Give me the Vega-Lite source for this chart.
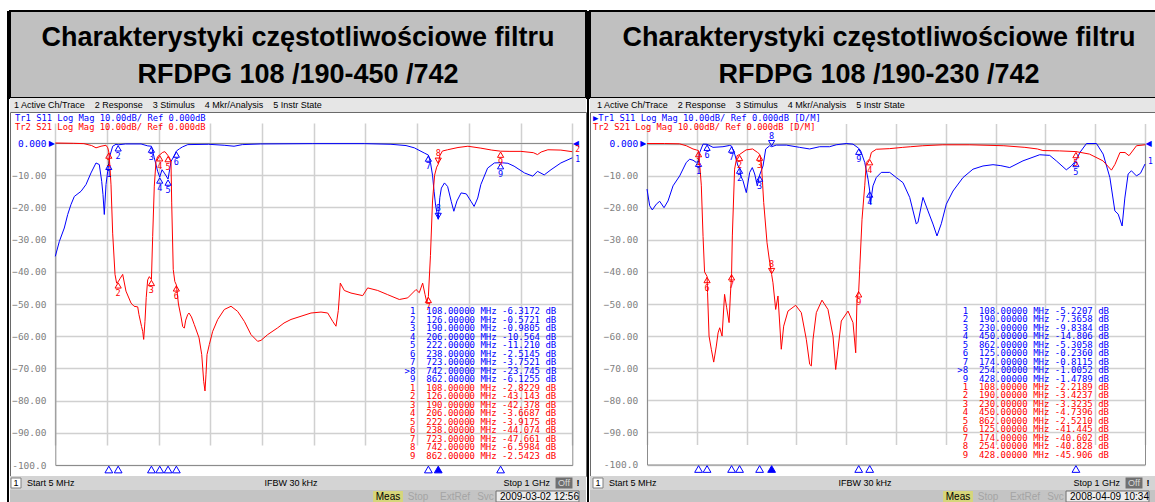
{
"$schema": "https://vega.github.io/schema/vega-lite/v6.json",
"background": "#ffffff",
"padding": {"left": 7, "top": 10, "right": 0, "bottom": 0},
"spacing": 0,
"config": {"view": {"stroke": null}},
"datasets": {
"lt": [
{"tr":"S11","f":5,"db":-35.2},{"tr":"S11","f":12.7,"db":-30.6},{"tr":"S11","f":22.3,"db":-26.4},{"tr":"S11","f":28.9,"db":-22.2},{"tr":"S11","f":35.2,"db":-19.1},{"tr":"S11","f":41.6,"db":-16.6},{"tr":"S11","f":54.5,"db":-15},{"tr":"S11","f":64.1,"db":-12.9},{"tr":"S11","f":73.7,"db":-9.3},{"tr":"S11","f":83.3,"db":-6.2},{"tr":"S11","f":89.7,"db":-6.7},{"tr":"S11","f":94.3,"db":-11.9},{"tr":"S11","f":96.8,"db":-16},{"tr":"S11","f":99.3,"db":-22.2},{"tr":"S11","f":102.6,"db":-12.9},{"tr":"S11","f":105.8,"db":-8.8},{"tr":"S11","f":108,"db":-6.3},{"tr":"S11","f":110,"db":-4},{"tr":"S11","f":115.5,"db":-1},{"tr":"S11","f":121.8,"db":-0.4},{"tr":"S11","f":126,"db":-0.57},{"tr":"S11","f":140,"db":-0.3},{"tr":"S11","f":170,"db":-0.3},{"tr":"S11","f":183,"db":-0.9},{"tr":"S11","f":190,"db":-1},{"tr":"S11","f":195.5,"db":-4.6},{"tr":"S11","f":202,"db":-8.8},{"tr":"S11","f":206,"db":-10.6},{"tr":"S11","f":210.4,"db":-8.3},{"tr":"S11","f":216,"db":-9.6},{"tr":"S11","f":222,"db":-11.2},{"tr":"S11","f":227.7,"db":-5.7},{"tr":"S11","f":234,"db":-4},{"tr":"S11","f":238,"db":-2.5},{"tr":"S11","f":244,"db":-1.8},{"tr":"S11","f":250,"db":-1.2},{"tr":"S11","f":260,"db":-0.5},{"tr":"S11","f":300,"db":-0.4},{"tr":"S11","f":330,"db":-0.7},{"tr":"S11","f":349,"db":-1},{"tr":"S11","f":365,"db":-0.5},{"tr":"S11","f":400,"db":-0.3},{"tr":"S11","f":500,"db":-0.2},{"tr":"S11","f":600,"db":-0.2},{"tr":"S11","f":651,"db":-0.4},{"tr":"S11","f":680,"db":-0.8},{"tr":"S11","f":696,"db":-1.5},{"tr":"S11","f":715,"db":-3.1},{"tr":"S11","f":723,"db":-3.75},{"tr":"S11","f":727,"db":-6},{"tr":"S11","f":731,"db":-10},{"tr":"S11","f":734,"db":-15},{"tr":"S11","f":737,"db":-19.5},{"tr":"S11","f":742,"db":-23.7},{"tr":"S11","f":745,"db":-17},{"tr":"S11","f":748,"db":-14},{"tr":"S11","f":754,"db":-12.4},{"tr":"S11","f":760,"db":-13.5},{"tr":"S11","f":767,"db":-18.1},{"tr":"S11","f":772,"db":-21.2},{"tr":"S11","f":778,"db":-18},{"tr":"S11","f":786,"db":-15.5},{"tr":"S11","f":796,"db":-15.8},{"tr":"S11","f":805,"db":-18.1},{"tr":"S11","f":811,"db":-19.7},{"tr":"S11","f":818,"db":-17.1},{"tr":"S11","f":824,"db":-12.9},{"tr":"S11","f":837,"db":-7.8},{"tr":"S11","f":850,"db":-6.2},{"tr":"S11","f":862,"db":-6.1},{"tr":"S11","f":876,"db":-6.3},{"tr":"S11","f":888,"db":-7.2},{"tr":"S11","f":908,"db":-9.3},{"tr":"S11","f":924,"db":-10.3},{"tr":"S11","f":933,"db":-8.8},{"tr":"S11","f":946,"db":-9.9},{"tr":"S11","f":959,"db":-8.3},{"tr":"S11","f":978,"db":-6.2},{"tr":"S11","f":1000,"db":-4.6},
{"tr":"S21","f":5,"db":0},{"tr":"S21","f":40,"db":-0.1},{"tr":"S21","f":60,"db":-0.2},{"tr":"S21","f":75,"db":-0.8},{"tr":"S21","f":83.3,"db":-1.5},{"tr":"S21","f":93,"db":-1},{"tr":"S21","f":102.6,"db":-0.7},{"tr":"S21","f":106,"db":-1.5},{"tr":"S21","f":108,"db":-2.8},{"tr":"S21","f":110,"db":-7},{"tr":"S21","f":112.2,"db":-13},{"tr":"S21","f":115.4,"db":-28},{"tr":"S21","f":119.9,"db":-40.8},{"tr":"S21","f":123,"db":-43.5},{"tr":"S21","f":126,"db":-43.1},{"tr":"S21","f":130,"db":-42},{"tr":"S21","f":134.7,"db":-40.8},{"tr":"S21","f":141,"db":-46},{"tr":"S21","f":150.7,"db":-49.7},{"tr":"S21","f":156.5,"db":-50.7},{"tr":"S21","f":163.6,"db":-50.9},{"tr":"S21","f":166,"db":-53.3},{"tr":"S21","f":171,"db":-57},{"tr":"S21","f":173.2,"db":-58.5},{"tr":"S21","f":175.1,"db":-61},{"tr":"S21","f":177.6,"db":-55.4},{"tr":"S21","f":180,"db":-48},{"tr":"S21","f":182.8,"db":-42.5},{"tr":"S21","f":186,"db":-41.5},{"tr":"S21","f":190,"db":-42.4},{"tr":"S21","f":192.4,"db":-29},{"tr":"S21","f":195.5,"db":-13.4},{"tr":"S21","f":198.8,"db":-5.7},{"tr":"S21","f":202,"db":-4.2},{"tr":"S21","f":206,"db":-3.67},{"tr":"S21","f":211.7,"db":-2.9},{"tr":"S21","f":216,"db":-2.7},{"tr":"S21","f":222,"db":-3.92},{"tr":"S21","f":225,"db":-4.6},{"tr":"S21","f":227.7,"db":-6},{"tr":"S21","f":229,"db":-18.6},{"tr":"S21","f":232,"db":-39.3},{"tr":"S21","f":235,"db":-43},{"tr":"S21","f":238,"db":-44.07},{"tr":"S21","f":242,"db":-50},{"tr":"S21","f":247,"db":-54},{"tr":"S21","f":250.2,"db":-57},{"tr":"S21","f":253.3,"db":-57.5},{"tr":"S21","f":256,"db":-55},{"tr":"S21","f":259.8,"db":-53.3},{"tr":"S21","f":262.3,"db":-52.8},{"tr":"S21","f":267,"db":-54},{"tr":"S21","f":272.5,"db":-56.4},{"tr":"S21","f":281.6,"db":-60.5},{"tr":"S21","f":286.8,"db":-65.7},{"tr":"S21","f":290.6,"db":-74},{"tr":"S21","f":293.1,"db":-77},{"tr":"S21","f":295,"db":-72},{"tr":"S21","f":297,"db":-65.7},{"tr":"S21","f":301.4,"db":-62.6},{"tr":"S21","f":307.9,"db":-58.5},{"tr":"S21","f":317.6,"db":-54.8},{"tr":"S21","f":330.3,"db":-51.7},{"tr":"S21","f":343.2,"db":-50.7},{"tr":"S21","f":356,"db":-52.3},{"tr":"S21","f":368.8,"db":-55.4},{"tr":"S21","f":381.6,"db":-59.5},{"tr":"S21","f":394.5,"db":-61.6},{"tr":"S21","f":400.9,"db":-61.3},{"tr":"S21","f":413.8,"db":-59.5},{"tr":"S21","f":433,"db":-57.4},{"tr":"S21","f":445.2,"db":-55.9},{"tr":"S21","f":458.6,"db":-54.8},{"tr":"S21","f":477.9,"db":-53.8},{"tr":"S21","f":497.1,"db":-52.8},{"tr":"S21","f":516.4,"db":-52.5},{"tr":"S21","f":529.3,"db":-52.8},{"tr":"S21","f":538.9,"db":-55.4},{"tr":"S21","f":545.2,"db":-56.9},{"tr":"S21","f":549.7,"db":-52},{"tr":"S21","f":553.5,"db":-43.5},{"tr":"S21","f":561.2,"db":-45.8},{"tr":"S21","f":574.1,"db":-46.6},{"tr":"S21","f":596.6,"db":-47.4},{"tr":"S21","f":606.2,"db":-45},{"tr":"S21","f":625.5,"db":-45.8},{"tr":"S21","f":644.7,"db":-47.1},{"tr":"S21","f":667.1,"db":-48.6},{"tr":"S21","f":683.2,"db":-48.1},{"tr":"S21","f":699.2,"db":-45.5},{"tr":"S21","f":705.5,"db":-46.5},{"tr":"S21","f":712,"db":-43.5},{"tr":"S21","f":716.5,"db":-47},{"tr":"S21","f":720,"db":-49.5},{"tr":"S21","f":723,"db":-47.7},{"tr":"S21","f":727,"db":-35},{"tr":"S21","f":731,"db":-18},{"tr":"S21","f":735,"db":-10},{"tr":"S21","f":739,"db":-7.5},{"tr":"S21","f":742,"db":-6.6},{"tr":"S21","f":745,"db":-4},{"tr":"S21","f":750,"db":-2.5},{"tr":"S21","f":760,"db":-2.1},{"tr":"S21","f":780,"db":-1.4},{"tr":"S21","f":799,"db":-1},{"tr":"S21","f":824,"db":-1.6},{"tr":"S21","f":845,"db":-2.2},{"tr":"S21","f":862,"db":-2.54},{"tr":"S21","f":880,"db":-2.6},{"tr":"S21","f":901,"db":-2.6},{"tr":"S21","f":925,"db":-3},{"tr":"S21","f":933,"db":-3.6},{"tr":"S21","f":940,"db":-2.8},{"tr":"S21","f":953,"db":-2.1},{"tr":"S21","f":978,"db":-2.2},{"tr":"S21","f":1000,"db":-2.7}
],
"lm": [
{"tr":"S11","n":"1","f":108,"db":-6.3172,"act":false,"row":1,"line":"\u00a01\u00a0\u00a0108.00000\u00a0MHz\u00a0-6.3172\u00a0dB"},
{"tr":"S11","n":"2","f":126,"db":-0.5721,"act":false,"row":2,"line":"\u00a02\u00a0\u00a0126.00000\u00a0MHz\u00a0-0.5721\u00a0dB"},
{"tr":"S11","n":"3","f":190,"db":-0.9805,"act":false,"row":3,"line":"\u00a03\u00a0\u00a0190.00000\u00a0MHz\u00a0-0.9805\u00a0dB"},
{"tr":"S11","n":"4","f":206,"db":-10.564,"act":false,"row":4,"line":"\u00a04\u00a0\u00a0206.00000\u00a0MHz\u00a0-10.564\u00a0dB"},
{"tr":"S11","n":"5","f":222,"db":-11.21,"act":false,"row":5,"line":"\u00a05\u00a0\u00a0222.00000\u00a0MHz\u00a0-11.210\u00a0dB"},
{"tr":"S11","n":"6","f":238,"db":-2.5145,"act":false,"row":6,"line":"\u00a06\u00a0\u00a0238.00000\u00a0MHz\u00a0-2.5145\u00a0dB"},
{"tr":"S11","n":"7","f":723,"db":-3.7521,"act":false,"row":7,"line":"\u00a07\u00a0\u00a0723.00000\u00a0MHz\u00a0-3.7521\u00a0dB"},
{"tr":"S11","n":"8","f":742,"db":-23.745,"act":true,"row":8,"line":">8\u00a0\u00a0742.00000\u00a0MHz\u00a0-23.745\u00a0dB"},
{"tr":"S11","n":"9","f":862,"db":-6.1255,"act":false,"row":9,"line":"\u00a09\u00a0\u00a0862.00000\u00a0MHz\u00a0-6.1255\u00a0dB"},
{"tr":"S21","n":"1","f":108,"db":-2.8229,"act":false,"row":10,"line":"\u00a01\u00a0\u00a0108.00000\u00a0MHz\u00a0-2.8229\u00a0dB"},
{"tr":"S21","n":"2","f":126,"db":-43.143,"act":false,"row":11,"line":"\u00a02\u00a0\u00a0126.00000\u00a0MHz\u00a0-43.143\u00a0dB"},
{"tr":"S21","n":"3","f":190,"db":-42.378,"act":false,"row":12,"line":"\u00a03\u00a0\u00a0190.00000\u00a0MHz\u00a0-42.378\u00a0dB"},
{"tr":"S21","n":"4","f":206,"db":-3.6687,"act":false,"row":13,"line":"\u00a04\u00a0\u00a0206.00000\u00a0MHz\u00a0-3.6687\u00a0dB"},
{"tr":"S21","n":"5","f":222,"db":-3.9175,"act":false,"row":14,"line":"\u00a05\u00a0\u00a0222.00000\u00a0MHz\u00a0-3.9175\u00a0dB"},
{"tr":"S21","n":"6","f":238,"db":-44.074,"act":false,"row":15,"line":"\u00a06\u00a0\u00a0238.00000\u00a0MHz\u00a0-44.074\u00a0dB"},
{"tr":"S21","n":"7","f":723,"db":-47.661,"act":false,"row":16,"line":"\u00a07\u00a0\u00a0723.00000\u00a0MHz\u00a0-47.661\u00a0dB"},
{"tr":"S21","n":"8","f":742,"db":-6.5984,"act":true,"row":17,"line":"\u00a08\u00a0\u00a0742.00000\u00a0MHz\u00a0-6.5984\u00a0dB"},
{"tr":"S21","n":"9","f":862,"db":-2.5423,"act":false,"row":18,"line":"\u00a09\u00a0\u00a0862.00000\u00a0MHz\u00a0-2.5423\u00a0dB"}
],
"rt": [
{"tr":"S11","f":5,"db":-14.2},{"tr":"S11","f":10.4,"db":-19.4},{"tr":"S11","f":15.6,"db":-20.7},{"tr":"S11","f":23.6,"db":-18.9},{"tr":"S11","f":30.4,"db":-18},{"tr":"S11","f":39,"db":-20},{"tr":"S11","f":47,"db":-17.9},{"tr":"S11","f":57,"db":-13.2},{"tr":"S11","f":70.3,"db":-10.1},{"tr":"S11","f":83.5,"db":-5.9},{"tr":"S11","f":90.3,"db":-4.9},{"tr":"S11","f":96.9,"db":-5.2},{"tr":"S11","f":103.5,"db":-5.9},{"tr":"S11","f":108,"db":-5.2},{"tr":"S11","f":110.3,"db":-2.8},{"tr":"S11","f":116.9,"db":-0.2},{"tr":"S11","f":125,"db":-0.24},{"tr":"S11","f":136.9,"db":-1.2},{"tr":"S11","f":156.8,"db":-1},{"tr":"S11","f":170.2,"db":-0.6},{"tr":"S11","f":174,"db":-0.81},{"tr":"S11","f":180.2,"db":-3.3},{"tr":"S11","f":186.8,"db":-7},{"tr":"S11","f":190,"db":-7.37},{"tr":"S11","f":192.2,"db":-10.1},{"tr":"S11","f":196.8,"db":-11.6},{"tr":"S11","f":203.4,"db":-15.3},{"tr":"S11","f":210.2,"db":-9},{"tr":"S11","f":215.4,"db":-7.5},{"tr":"S11","f":220.2,"db":-9.5},{"tr":"S11","f":225.4,"db":-13.2},{"tr":"S11","f":230,"db":-9.84},{"tr":"S11","f":236.8,"db":-7},{"tr":"S11","f":242.2,"db":-1.7},{"tr":"S11","f":250.2,"db":-0.7},{"tr":"S11","f":254,"db":-1},{"tr":"S11","f":263.3,"db":-0.5},{"tr":"S11","f":283.3,"db":-0.5},{"tr":"S11","f":310,"db":-1.2},{"tr":"S11","f":330,"db":-1.7},{"tr":"S11","f":350,"db":-1},{"tr":"S11","f":370,"db":-1},{"tr":"S11","f":383,"db":-0.4},{"tr":"S11","f":403,"db":0},{"tr":"S11","f":416.6,"db":-0.2},{"tr":"S11","f":428,"db":-1.48},{"tr":"S11","f":432,"db":-2.3},{"tr":"S11","f":440,"db":-5.9},{"tr":"S11","f":446.6,"db":-11.1},{"tr":"S11","f":450,"db":-14.8},{"tr":"S11","f":451.2,"db":-18.9},{"tr":"S11","f":456.5,"db":-13.2},{"tr":"S11","f":463.1,"db":-10.6},{"tr":"S11","f":473.1,"db":-9},{"tr":"S11","f":489.9,"db":-9},{"tr":"S11","f":503.1,"db":-10.6},{"tr":"S11","f":516.5,"db":-12.2},{"tr":"S11","f":529.9,"db":-16.8},{"tr":"S11","f":543.1,"db":-25.1},{"tr":"S11","f":546.5,"db":-24.5},{"tr":"S11","f":556.4,"db":-16.8},{"tr":"S11","f":566.4,"db":-21},{"tr":"S11","f":576.4,"db":-25.1},{"tr":"S11","f":584.4,"db":-28.8},{"tr":"S11","f":593,"db":-25},{"tr":"S11","f":603,"db":-18.9},{"tr":"S11","f":616.4,"db":-14.8},{"tr":"S11","f":636.4,"db":-10.6},{"tr":"S11","f":656.3,"db":-8},{"tr":"S11","f":676.3,"db":-7},{"tr":"S11","f":696.3,"db":-6.6},{"tr":"S11","f":712,"db":-6.9},{"tr":"S11","f":729.7,"db":-7.5},{"tr":"S11","f":756.2,"db":-5.4},{"tr":"S11","f":789.6,"db":-3.5},{"tr":"S11","f":809.6,"db":-3.7},{"tr":"S11","f":822.8,"db":-5.4},{"tr":"S11","f":842.8,"db":-8.2},{"tr":"S11","f":852.8,"db":-7},{"tr":"S11","f":862,"db":-5.31},{"tr":"S11","f":869.9,"db":-2.8},{"tr":"S11","f":883.1,"db":0},{"tr":"S11","f":903,"db":0},{"tr":"S11","f":916.4,"db":-3.3},{"tr":"S11","f":929.8,"db":-10.6},{"tr":"S11","f":939.8,"db":-21},{"tr":"S11","f":946.4,"db":-22},{"tr":"S11","f":954.3,"db":-25.7},{"tr":"S11","f":959.7,"db":-17},{"tr":"S11","f":966.3,"db":-9.5},{"tr":"S11","f":972.9,"db":-8.5},{"tr":"S11","f":982.9,"db":-10.1},{"tr":"S11","f":990.9,"db":-9.3},{"tr":"S11","f":1000,"db":-6.4},
{"tr":"S21","f":5,"db":0},{"tr":"S21","f":40,"db":0},{"tr":"S21","f":70,"db":-0.1},{"tr":"S21","f":83.5,"db":-0.7},{"tr":"S21","f":96.9,"db":-1.7},{"tr":"S21","f":103.5,"db":-2},{"tr":"S21","f":108,"db":-2.22},{"tr":"S21","f":109,"db":-4},{"tr":"S21","f":113.5,"db":-13},{"tr":"S21","f":117,"db":-29},{"tr":"S21","f":120,"db":-40},{"tr":"S21","f":125,"db":-41.4},{"tr":"S21","f":126,"db":-46.5},{"tr":"S21","f":129,"db":-60},{"tr":"S21","f":133.5,"db":-64.1},{"tr":"S21","f":138.3,"db":-68.1},{"tr":"S21","f":143.5,"db":-63.1},{"tr":"S21","f":147,"db":-59},{"tr":"S21","f":150.3,"db":-57.4},{"tr":"S21","f":155,"db":-60},{"tr":"S21","f":160,"db":-47},{"tr":"S21","f":164,"db":-51},{"tr":"S21","f":169,"db":-55.8},{"tr":"S21","f":171.5,"db":-47.5},{"tr":"S21","f":174,"db":-40.6},{"tr":"S21","f":175.5,"db":-28.8},{"tr":"S21","f":180,"db":-8},{"tr":"S21","f":185,"db":-3.8},{"tr":"S21","f":190,"db":-3.42},{"tr":"S21","f":203,"db":-2},{"tr":"S21","f":216,"db":-1.7},{"tr":"S21","f":226,"db":-2.8},{"tr":"S21","f":230,"db":-3.32},{"tr":"S21","f":233.4,"db":-5.9},{"tr":"S21","f":238.2,"db":-18.4},{"tr":"S21","f":244.8,"db":-30.9},{"tr":"S21","f":250.2,"db":-37.1},{"tr":"S21","f":254,"db":-40.8},{"tr":"S21","f":256.7,"db":-43.4},{"tr":"S21","f":262.1,"db":-51.7},{"tr":"S21","f":266.7,"db":-47.5},{"tr":"S21","f":273.3,"db":-64.1},{"tr":"S21","f":278.1,"db":-56.9},{"tr":"S21","f":286.7,"db":-52.2},{"tr":"S21","f":302.1,"db":-50.4},{"tr":"S21","f":313.3,"db":-52.7},{"tr":"S21","f":323.3,"db":-61},{"tr":"S21","f":330.1,"db":-68.8},{"tr":"S21","f":333.3,"db":-69.3},{"tr":"S21","f":336.7,"db":-61},{"tr":"S21","f":343.3,"db":-52.7},{"tr":"S21","f":354.6,"db":-48.8},{"tr":"S21","f":366.6,"db":-51.7},{"tr":"S21","f":376.6,"db":-60},{"tr":"S21","f":382,"db":-70.4},{"tr":"S21","f":386.6,"db":-64.1},{"tr":"S21","f":393.2,"db":-55.3},{"tr":"S21","f":406.6,"db":-52.2},{"tr":"S21","f":416.6,"db":-55.8},{"tr":"S21","f":422,"db":-65.2},{"tr":"S21","f":424.6,"db":-48.5},{"tr":"S21","f":428,"db":-45.9},{"tr":"S21","f":430,"db":-39.2},{"tr":"S21","f":434.6,"db":-23.6},{"tr":"S21","f":440,"db":-13.2},{"tr":"S21","f":443.2,"db":-5.9},{"tr":"S21","f":450,"db":-4.74},{"tr":"S21","f":453.3,"db":-2.8},{"tr":"S21","f":463.2,"db":-1.8},{"tr":"S21","f":490,"db":-1.6},{"tr":"S21","f":516,"db":-1.2},{"tr":"S21","f":532,"db":-1},{"tr":"S21","f":556,"db":-0.7},{"tr":"S21","f":596,"db":-0.4},{"tr":"S21","f":650,"db":-0.4},{"tr":"S21","f":718,"db":-0.7},{"tr":"S21","f":760,"db":-1.2},{"tr":"S21","f":785,"db":-1.7},{"tr":"S21","f":796,"db":-2.2},{"tr":"S21","f":829,"db":-2.3},{"tr":"S21","f":862,"db":-2.52},{"tr":"S21","f":889,"db":-3.3},{"tr":"S21","f":916,"db":-5.4},{"tr":"S21","f":933,"db":-8.3},{"tr":"S21","f":940,"db":-6.5},{"tr":"S21","f":950,"db":-2.8},{"tr":"S21","f":960,"db":-2.8},{"tr":"S21","f":968,"db":-3.8},{"tr":"S21","f":983,"db":-0.7},{"tr":"S21","f":1000,"db":-0.4}
],
"rm": [
{"tr":"S11","n":"1","f":108,"db":-5.2207,"act":false,"row":1,"line":"\u00a01\u00a0\u00a0108.00000\u00a0MHz\u00a0-5.2207\u00a0dB"},
{"tr":"S11","n":"2","f":190,"db":-7.3658,"act":false,"row":2,"line":"\u00a02\u00a0\u00a0190.00000\u00a0MHz\u00a0-7.3658\u00a0dB"},
{"tr":"S11","n":"3","f":230,"db":-9.8384,"act":false,"row":3,"line":"\u00a03\u00a0\u00a0230.00000\u00a0MHz\u00a0-9.8384\u00a0dB"},
{"tr":"S11","n":"4","f":450,"db":-14.806,"act":false,"row":4,"line":"\u00a04\u00a0\u00a0450.00000\u00a0MHz\u00a0-14.806\u00a0dB"},
{"tr":"S11","n":"5","f":862,"db":-5.3058,"act":false,"row":5,"line":"\u00a05\u00a0\u00a0862.00000\u00a0MHz\u00a0-5.3058\u00a0dB"},
{"tr":"S11","n":"6","f":125,"db":-0.236,"act":false,"row":6,"line":"\u00a06\u00a0\u00a0125.00000\u00a0MHz\u00a0-0.2360\u00a0dB"},
{"tr":"S11","n":"7","f":174,"db":-0.8115,"act":false,"row":7,"line":"\u00a07\u00a0\u00a0174.00000\u00a0MHz\u00a0-0.8115\u00a0dB"},
{"tr":"S11","n":"8","f":254,"db":-1.0052,"act":true,"row":8,"line":">8\u00a0\u00a0254.00000\u00a0MHz\u00a0-1.0052\u00a0dB"},
{"tr":"S11","n":"9","f":428,"db":-1.4789,"act":false,"row":9,"line":"\u00a09\u00a0\u00a0428.00000\u00a0MHz\u00a0-1.4789\u00a0dB"},
{"tr":"S21","n":"1","f":108,"db":-2.2189,"act":false,"row":10,"line":"\u00a01\u00a0\u00a0108.00000\u00a0MHz\u00a0-2.2189\u00a0dB"},
{"tr":"S21","n":"2","f":190,"db":-3.4237,"act":false,"row":11,"line":"\u00a02\u00a0\u00a0190.00000\u00a0MHz\u00a0-3.4237\u00a0dB"},
{"tr":"S21","n":"3","f":230,"db":-3.3235,"act":false,"row":12,"line":"\u00a03\u00a0\u00a0230.00000\u00a0MHz\u00a0-3.3235\u00a0dB"},
{"tr":"S21","n":"4","f":450,"db":-4.7396,"act":false,"row":13,"line":"\u00a04\u00a0\u00a0450.00000\u00a0MHz\u00a0-4.7396\u00a0dB"},
{"tr":"S21","n":"5","f":862,"db":-2.521,"act":false,"row":14,"line":"\u00a05\u00a0\u00a0862.00000\u00a0MHz\u00a0-2.5210\u00a0dB"},
{"tr":"S21","n":"6","f":125,"db":-41.445,"act":false,"row":15,"line":"\u00a06\u00a0\u00a0125.00000\u00a0MHz\u00a0-41.445\u00a0dB"},
{"tr":"S21","n":"7","f":174,"db":-40.602,"act":false,"row":16,"line":"\u00a07\u00a0\u00a0174.00000\u00a0MHz\u00a0-40.602\u00a0dB"},
{"tr":"S21","n":"8","f":254,"db":-40.828,"act":true,"row":17,"line":"\u00a08\u00a0\u00a0254.00000\u00a0MHz\u00a0-40.828\u00a0dB"},
{"tr":"S21","n":"9","f":428,"db":-45.906,"act":false,"row":18,"line":"\u00a09\u00a0\u00a0428.00000\u00a0MHz\u00a0-45.906\u00a0dB"}
]
},
"hconcat": [
{"width": 2, "height": 492, "view": {"fill": "#000000", "stroke": null}, "data": {"values": [{}]}, "mark": {"type": "text", "text": ""}},
{"spacing": 0, "bounds": "flush", "vconcat": [
 {"width": 576, "height": 87, "view": {"fill": "#c0c0c0", "stroke": "#000000", "strokeWidth": 2},
  "data": {"values": [{"t": "Charakterystyki częstotliwościowe filtru\nRFDPG 108 /190-450 /742"}]},
  "mark": {"type": "text", "font": "Liberation Sans", "fontSize": 27, "fontWeight": "bold", "lineBreak": "\n", "lineHeight": 37, "color": "#000000", "align": "center", "baseline": "middle", "dy": -17},
  "encoding": {"text": {"field": "t"}}},
 {"width": 576, "height": 14, "view": {"fill": "#e6e6e6", "stroke": null},
  "title": {"text": "1 Active Ch/Trace\u00a0\u00a0\u00a0\u00a02 Response\u00a0\u00a0\u00a0\u00a03 Stimulus\u00a0\u00a0\u00a0\u00a04 Mkr/Analysis\u00a0\u00a0\u00a0\u00a05 Instr State", "anchor": "start", "frame": "group", "offset": -11.5, "dx": 4, "font": "Liberation Sans", "fontSize": 9, "fontWeight": "normal", "color": "#000000"},
  "data": {"values": [{}]}, "mark": {"type": "text", "text": ""}},
 {"width": 576, "height": 364, "view": {"fill": "#ffffff", "stroke": "#6a6a6a", "strokeWidth": 1},
  "title": {"text": "Tr1 S11 Log Mag 10.00dB/ Ref 0.000dB", "subtitle": "Tr2 S21 Log Mag 10.00dB/ Ref 0.000dB", "anchor": "start", "frame": "group", "offset": -20, "dx": 5, "font": "DejaVu Sans Mono", "fontSize": 8.8, "fontWeight": "normal", "color": "#0000ff", "subtitleFont": "DejaVu Sans Mono", "subtitleFontSize": 8.8, "subtitleColor": "#ff0000", "subtitlePadding": 0},
  "resolve": {"scale": {"y": "independent"}, "axis": {"x": "independent", "y": "independent"}},
  "layer": [
   {"resolve": {"axis": {"x": "independent", "y": "independent"}},
    "layer": [
     {"data": {"name": "lt"}, "mark": {"type": "line", "strokeWidth": 1},
      "encoding": {
       "x": {"field": "f", "type": "quantitative", "scale": {"domain": [5, 1000], "range": [45.3, 562.3], "nice": false, "zero": false},
             "axis": {"orient": "bottom", "offset": -11, "values": [5,104.5,204,303.5,403,502.5,602,701.5,801,900.5,1000], "labels": false, "ticks": false, "title": null, "grid": true, "gridColor": "#d0d0d0", "gridWidth": 1.5, "domain": true, "domainColor": "#8c8c8c"}},
       "y": {"field": "db", "type": "quantitative", "scale": {"domain": [-100, 0], "range": [353, 31], "nice": false, "zero": false},
             "axis": {"orient": "left", "offset": -45.3, "values": [0,-10,-20,-30,-40,-50,-60,-70,-80,-90,-100], "ticks": false, "labelPadding": 9.3, "labelExpr": "datum.value == 0 ? '0.000' : datum.value == -100 ? '-100.0' : format(datum.value, '.2f')", "labelColor": {"condition": {"test": "datum.value == 0", "value": "#0000ff"}, "value": "#7f7f7f"}, "labelFont": "DejaVu Sans Mono", "labelFontSize": 9.5, "title": null, "grid": true, "gridColor": "#d0d0d0", "gridWidth": 1.5, "domain": true, "domainColor": "#8c8c8c"}},
       "color": {"field": "tr", "type": "nominal", "scale": {"domain": ["S11", "S21"], "range": ["#0000ff", "#ff0000"]}, "legend": null}}},
     {"data": {"name": "lm"}, "transform": [{"filter": "!datum.act"}],
      "mark": {"type": "point", "shape": "triangle-up", "filled": false, "size": 38, "strokeWidth": 1, "yOffset": 3.5, "opacity": 1},
      "encoding": {
       "x": {"field": "f", "type": "quantitative", "axis": {"orient": "top", "offset": -31, "labels": false, "ticks": false, "grid": false, "title": null, "domain": true, "domainColor": "#8c8c8c"}},
       "y": {"field": "db", "type": "quantitative", "axis": {"orient": "left", "offset": -45.3, "values": [0], "labelExpr": "'\u25b6'", "labelColor": "#0000ff", "labelPadding": 1, "labelFont": "DejaVu Sans", "labelFontSize": 8, "ticks": false, "domain": false, "grid": false, "title": null}},
       "color": {"field": "tr", "type": "nominal", "legend": null}}},
     {"data": {"name": "lm"}, "transform": [{"filter": "!datum.act"}],
      "mark": {"type": "text", "dy": 11, "font": "DejaVu Sans Mono", "fontSize": 8.5},
      "encoding": {"x": {"field": "f", "type": "quantitative", "axis": null}, "y": {"field": "db", "type": "quantitative", "axis": null}, "color": {"field": "tr", "type": "nominal", "legend": null}, "text": {"field": "n"}}},
     {"data": {"name": "lm"}, "transform": [{"filter": "datum.act"}],
      "mark": {"type": "point", "shape": "triangle-down", "filled": false, "size": 38, "strokeWidth": 1, "yOffset": -3.5, "opacity": 1},
      "encoding": {"x": {"field": "f", "type": "quantitative", "axis": null}, "y": {"field": "db", "type": "quantitative", "axis": null}, "color": {"field": "tr", "type": "nominal", "legend": null}}},
     {"data": {"name": "lm"}, "transform": [{"filter": "datum.act"}],
      "mark": {"type": "text", "dy": -11, "font": "DejaVu Sans Mono", "fontSize": 8.5},
      "encoding": {"x": {"field": "f", "type": "quantitative", "axis": null}, "y": {"field": "db", "type": "quantitative", "axis": null}, "color": {"field": "tr", "type": "nominal", "legend": null}, "text": {"field": "n"}}},
     {"data": {"name": "lm"}, "transform": [{"filter": "datum.tr == 'S11'"}],
      "mark": {"type": "point", "shape": "triangle-up", "filled": true, "size": 60, "stroke": "#0000ff", "strokeWidth": 1, "opacity": 1},
      "encoding": {"x": {"field": "f", "type": "quantitative", "axis": null}, "y": {"datum": -101.4, "type": "quantitative", "axis": null}, "fill": {"condition": {"test": "datum.act", "value": "#0000ff"}, "value": "#ffffff"}}},
     {"data": {"values": [{"tr": "S11", "lab": "1", "f": 1000, "db": -5.2}, {"tr": "S21", "lab": "2", "f": 1000, "db": -2.3}]},
      "mark": {"type": "text", "align": "left", "dx": 3, "font": "DejaVu Sans Mono", "fontSize": 8},
      "encoding": {"x": {"field": "f", "type": "quantitative", "axis": null},
       "y": {"field": "db", "type": "quantitative", "axis": {"orient": "right", "offset": -13.7, "values": [0], "labelExpr": "'\u25c0'", "labelColor": "#0000ff", "labelPadding": 0, "labelFont": "DejaVu Sans", "labelFontSize": 8, "ticks": false, "grid": false, "domain": true, "domainColor": "#8c8c8c", "title": null}},
       "color": {"field": "tr", "type": "nominal", "legend": null}, "text": {"field": "lab"}}}
    ]},
   {"data": {"name": "lm"},
    "mark": {"type": "text", "align": "right", "baseline": "middle", "dx": -16, "font": "DejaVu Sans Mono", "fontSize": 9},
    "encoding": {"x": {"datum": 1000, "type": "quantitative", "axis": null},
     "y": {"field": "row", "type": "quantitative", "scale": {"domain": [1, 18], "range": [199, 344]}, "axis": null},
     "color": {"field": "tr", "type": "nominal", "scale": {"domain": ["S11", "S21"], "range": ["#0000ff", "#ff0000"]}, "legend": null},
     "text": {"field": "line"}}}
  ]},
 {"width": 576, "height": 14, "view": {"fill": "#d4d4d4", "stroke": null},
  "encoding": {"x": {"field": "p", "type": "ordinal", "scale": {"type": "point", "domain": ["start", "center", "stop"], "padding": 0}, "axis": null}},
  "layer": [
   {"data": {"values": [{"p": "start"}]}, "mark": {"type": "point", "shape": "square", "size": 100, "filled": true, "fill": "#ffffff", "stroke": "#808080", "strokeWidth": 1, "xOffset": 6, "opacity": 1}},
   {"data": {"values": [{"p": "start", "t": "1"}]}, "mark": {"type": "text", "align": "center", "dx": 6, "font": "Liberation Sans", "fontSize": 9, "color": "#000000"}, "encoding": {"text": {"field": "t"}}},
   {"data": {"values": [{"p": "start", "t": "Start 5 MHz"}]}, "mark": {"type": "text", "align": "left", "dx": 17, "font": "Liberation Sans", "fontSize": 9, "color": "#000000"}, "encoding": {"text": {"field": "t"}}},
   {"data": {"values": [{"p": "center", "t": "IFBW 30 kHz"}]}, "mark": {"type": "text", "align": "center", "dx": -7, "font": "Liberation Sans", "fontSize": 9, "color": "#000000"}, "encoding": {"text": {"field": "t"}}},
   {"data": {"values": [{"p": "stop", "t": "Stop 1 GHz"}]}, "mark": {"type": "text", "align": "right", "dx": -36, "font": "Liberation Sans", "fontSize": 9, "color": "#000000"}, "encoding": {"text": {"field": "t"}}},
   {"data": {"values": [{"p": "stop"}]}, "mark": {"type": "point", "shape": "M-0.77,-0.5H0.77V0.5H-0.77Z", "size": 484, "filled": true, "fill": "#707070", "strokeWidth": 0, "xOffset": -22, "opacity": 1}},
   {"data": {"values": [{"p": "stop", "t": "Off"}]}, "mark": {"type": "text", "align": "center", "dx": -22, "font": "Liberation Sans", "fontSize": 9, "color": "#d8d8d8"}, "encoding": {"text": {"field": "t"}}},
   {"data": {"values": [{"p": "stop", "t": "!"}]}, "mark": {"type": "text", "align": "center", "dx": -8, "font": "Liberation Sans", "fontSize": 9, "fontWeight": "bold", "color": "#000000"}, "encoding": {"text": {"field": "t"}}}
  ]},
 {"width": 576, "height": 13, "view": {"fill": "#c4c4c4", "stroke": null},
  "encoding": {"x": {"field": "p", "type": "ordinal", "scale": {"type": "point", "domain": ["start", "stop"], "padding": 0}, "axis": null}},
  "layer": [
   {"data": {"values": [{"p": "stop"}]}, "mark": {"type": "point", "shape": "M-1.36,-0.5H1.36V0.5H-1.36Z", "size": 484, "filled": true, "fill": "#d6d67a", "strokeWidth": 0, "xOffset": -198, "opacity": 1}},
   {"data": {"values": [{"p": "stop"}]}, "mark": {"type": "point", "shape": "M-3.77,-0.5H3.77V0.5H-3.77Z", "size": 484, "filled": true, "fill": "#ececec", "stroke": "#707070", "strokeWidth": 1, "xOffset": -48.5, "opacity": 1}},
   {"data": {"values": [{"p": "stop", "t": "Meas"}]}, "mark": {"type": "text", "align": "center", "dx": -198, "font": "Liberation Sans", "fontSize": 10, "color": "#000000"}, "encoding": {"text": {"field": "t"}}},
   {"data": {"values": [{"p": "stop", "t": "Stop"}]}, "mark": {"type": "text", "align": "center", "dx": -168, "font": "Liberation Sans", "fontSize": 10, "color": "#a4a4a4"}, "encoding": {"text": {"field": "t"}}},
   {"data": {"values": [{"p": "stop", "t": "ExtRef"}]}, "mark": {"type": "text", "align": "center", "dx": -131, "font": "Liberation Sans", "fontSize": 10, "color": "#a4a4a4"}, "encoding": {"text": {"field": "t"}}},
   {"data": {"values": [{"p": "stop", "t": "Svc"}]}, "mark": {"type": "text", "align": "center", "dx": -100.5, "font": "Liberation Sans", "fontSize": 10, "color": "#a4a4a4"}, "encoding": {"text": {"field": "t"}}},
   {"data": {"values": [{"p": "stop", "t": "2009-03-02 12:56"}]}, "mark": {"type": "text", "align": "center", "dx": -46.5, "font": "Liberation Sans", "fontSize": 10, "color": "#000000"}, "encoding": {"text": {"field": "t"}}}
  ]}
]},
{"width": 2, "height": 492, "view": {"fill": "#000000", "stroke": null}, "data": {"values": [{}]}, "mark": {"type": "text", "text": ""}},
{"spacing": 0, "bounds": "flush", "vconcat": [
 {"width": 566, "height": 87, "view": {"fill": "#c0c0c0", "stroke": "#000000", "strokeWidth": 2},
  "data": {"values": [{"t": "Charakterystyki częstotliwościowe filtru\nRFDPG 108 /190-230 /742"}]},
  "mark": {"type": "text", "font": "Liberation Sans", "fontSize": 27, "fontWeight": "bold", "lineBreak": "\n", "lineHeight": 37, "color": "#000000", "align": "center", "baseline": "middle", "dx": 6, "dy": -17},
  "encoding": {"text": {"field": "t"}}},
 {"width": 566, "height": 14, "view": {"fill": "#e6e6e6", "stroke": null},
  "title": {"text": "1 Active Ch/Trace\u00a0\u00a0\u00a0\u00a02 Response\u00a0\u00a0\u00a0\u00a03 Stimulus\u00a0\u00a0\u00a0\u00a04 Mkr/Analysis\u00a0\u00a0\u00a0\u00a05 Instr State", "anchor": "start", "frame": "group", "offset": -11.5, "dx": 7, "font": "Liberation Sans", "fontSize": 9, "fontWeight": "normal", "color": "#000000"},
  "data": {"values": [{}]}, "mark": {"type": "text", "text": ""}},
 {"width": 566, "height": 364, "view": {"fill": "#ffffff", "stroke": "#6a6a6a", "strokeWidth": 1},
  "title": {"text": "\u25b6Tr1 S11 Log Mag 10.00dB/ Ref 0.000dB [D/M]", "subtitle": "\u00a0Tr2 S21 Log Mag 10.00dB/ Ref 0.000dB [D/M]", "anchor": "start", "frame": "group", "offset": -20, "dx": 3, "font": "DejaVu Sans Mono", "fontSize": 8.8, "fontWeight": "normal", "color": "#0000ff", "subtitleFont": "DejaVu Sans Mono", "subtitleFontSize": 8.8, "subtitleColor": "#ff0000", "subtitlePadding": 0},
  "resolve": {"scale": {"y": "independent"}, "axis": {"x": "independent", "y": "independent"}},
  "layer": [
   {"resolve": {"axis": {"x": "independent", "y": "independent"}},
    "layer": [
     {"data": {"name": "rt"}, "mark": {"type": "line", "strokeWidth": 1},
      "encoding": {
       "x": {"field": "f", "type": "quantitative", "scale": {"domain": [5, 1000], "range": [57, 555], "nice": false, "zero": false},
             "axis": {"orient": "bottom", "offset": -11.5, "values": [5,104.5,204,303.5,403,502.5,602,701.5,801,900.5,1000], "labels": false, "ticks": false, "title": null, "grid": true, "gridColor": "#d0d0d0", "gridWidth": 1.5, "domain": true, "domainColor": "#8c8c8c"}},
       "y": {"field": "db", "type": "quantitative", "scale": {"domain": [-100, 0], "range": [352.5, 31.5], "nice": false, "zero": false},
             "axis": {"orient": "left", "offset": -57, "values": [0,-10,-20,-30,-40,-50,-60,-70,-80,-90,-100], "ticks": false, "labelPadding": 9.3, "labelExpr": "datum.value == 0 ? '0.000' : datum.value == -100 ? '-100.0' : format(datum.value, '.2f')", "labelColor": {"condition": {"test": "datum.value == 0", "value": "#0000ff"}, "value": "#7f7f7f"}, "labelFont": "DejaVu Sans Mono", "labelFontSize": 9.5, "title": null, "grid": true, "gridColor": "#d0d0d0", "gridWidth": 1.5, "domain": true, "domainColor": "#8c8c8c"}},
       "color": {"field": "tr", "type": "nominal", "scale": {"domain": ["S11", "S21"], "range": ["#0000ff", "#ff0000"]}, "legend": null}}},
     {"data": {"name": "rm"}, "transform": [{"filter": "!datum.act"}],
      "mark": {"type": "point", "shape": "triangle-up", "filled": false, "size": 38, "strokeWidth": 1, "yOffset": 3.5, "opacity": 1},
      "encoding": {
       "x": {"field": "f", "type": "quantitative", "axis": {"orient": "top", "offset": -31.5, "labels": false, "ticks": false, "grid": false, "title": null, "domain": true, "domainColor": "#8c8c8c"}},
       "y": {"field": "db", "type": "quantitative", "axis": {"orient": "left", "offset": -57, "values": [0], "labelExpr": "'\u25b6'", "labelColor": "#0000ff", "labelPadding": 1, "labelFont": "DejaVu Sans", "labelFontSize": 8, "ticks": false, "domain": false, "grid": false, "title": null}},
       "color": {"field": "tr", "type": "nominal", "legend": null}}},
     {"data": {"name": "rm"}, "transform": [{"filter": "!datum.act"}],
      "mark": {"type": "text", "dy": 11, "font": "DejaVu Sans Mono", "fontSize": 8.5},
      "encoding": {"x": {"field": "f", "type": "quantitative", "axis": null}, "y": {"field": "db", "type": "quantitative", "axis": null}, "color": {"field": "tr", "type": "nominal", "legend": null}, "text": {"field": "n"}}},
     {"data": {"name": "rm"}, "transform": [{"filter": "datum.act"}],
      "mark": {"type": "point", "shape": "triangle-down", "filled": false, "size": 38, "strokeWidth": 1, "yOffset": -3.5, "opacity": 1},
      "encoding": {"x": {"field": "f", "type": "quantitative", "axis": null}, "y": {"field": "db", "type": "quantitative", "axis": null}, "color": {"field": "tr", "type": "nominal", "legend": null}}},
     {"data": {"name": "rm"}, "transform": [{"filter": "datum.act"}],
      "mark": {"type": "text", "dy": -11, "font": "DejaVu Sans Mono", "fontSize": 8.5},
      "encoding": {"x": {"field": "f", "type": "quantitative", "axis": null}, "y": {"field": "db", "type": "quantitative", "axis": null}, "color": {"field": "tr", "type": "nominal", "legend": null}, "text": {"field": "n"}}},
     {"data": {"name": "rm"}, "transform": [{"filter": "datum.tr == 'S11'"}],
      "mark": {"type": "point", "shape": "triangle-up", "filled": true, "size": 60, "stroke": "#0000ff", "strokeWidth": 1, "opacity": 1},
      "encoding": {"x": {"field": "f", "type": "quantitative", "axis": null}, "y": {"datum": -101.4, "type": "quantitative", "axis": null}, "fill": {"condition": {"test": "datum.act", "value": "#0000ff"}, "value": "#ffffff"}}},
     {"data": {"values": [{"tr": "S11", "lab": "1", "f": 1000, "db": -5.8}]},
      "mark": {"type": "text", "align": "left", "dx": 3, "font": "DejaVu Sans Mono", "fontSize": 8},
      "encoding": {"x": {"field": "f", "type": "quantitative", "axis": null},
       "y": {"field": "db", "type": "quantitative", "axis": {"orient": "right", "offset": -11, "values": [0], "labelExpr": "'\u25c0'", "labelColor": "#0000ff", "labelPadding": 0, "labelFont": "DejaVu Sans", "labelFontSize": 8, "ticks": false, "grid": false, "domain": true, "domainColor": "#8c8c8c", "title": null}},
       "color": {"field": "tr", "type": "nominal", "legend": null}, "text": {"field": "lab"}}}
    ]},
   {"data": {"name": "rm"},
    "mark": {"type": "text", "align": "right", "baseline": "middle", "dx": -36, "font": "DejaVu Sans Mono", "fontSize": 9},
    "encoding": {"x": {"datum": 1000, "type": "quantitative", "axis": null},
     "y": {"field": "row", "type": "quantitative", "scale": {"domain": [1, 18], "range": [199, 342.5]}, "axis": null},
     "color": {"field": "tr", "type": "nominal", "scale": {"domain": ["S11", "S21"], "range": ["#0000ff", "#ff0000"]}, "legend": null},
     "text": {"field": "line"}}}
  ]},
 {"width": 566, "height": 14, "view": {"fill": "#d4d4d4", "stroke": null},
  "encoding": {"x": {"field": "p", "type": "ordinal", "scale": {"type": "point", "domain": ["start", "center", "stop"], "padding": 0}, "axis": null}},
  "layer": [
   {"data": {"values": [{"p": "start"}]}, "mark": {"type": "point", "shape": "square", "size": 100, "filled": true, "fill": "#ffffff", "stroke": "#808080", "strokeWidth": 1, "xOffset": 8, "opacity": 1}},
   {"data": {"values": [{"p": "start", "t": "1"}]}, "mark": {"type": "text", "align": "center", "dx": 8, "font": "Liberation Sans", "fontSize": 9, "color": "#000000"}, "encoding": {"text": {"field": "t"}}},
   {"data": {"values": [{"p": "start", "t": "Start 5 MHz"}]}, "mark": {"type": "text", "align": "left", "dx": 19, "font": "Liberation Sans", "fontSize": 9, "color": "#000000"}, "encoding": {"text": {"field": "t"}}},
   {"data": {"values": [{"p": "center", "t": "IFBW 30 kHz"}]}, "mark": {"type": "text", "align": "center", "dx": -8, "font": "Liberation Sans", "fontSize": 9, "color": "#000000"}, "encoding": {"text": {"field": "t"}}},
   {"data": {"values": [{"p": "stop", "t": "Stop 1 GHz"}]}, "mark": {"type": "text", "align": "right", "dx": -36, "font": "Liberation Sans", "fontSize": 9, "color": "#000000"}, "encoding": {"text": {"field": "t"}}},
   {"data": {"values": [{"p": "stop"}]}, "mark": {"type": "point", "shape": "M-0.77,-0.5H0.77V0.5H-0.77Z", "size": 484, "filled": true, "fill": "#707070", "strokeWidth": 0, "xOffset": -22, "opacity": 1}},
   {"data": {"values": [{"p": "stop", "t": "Off"}]}, "mark": {"type": "text", "align": "center", "dx": -22, "font": "Liberation Sans", "fontSize": 9, "color": "#d8d8d8"}, "encoding": {"text": {"field": "t"}}},
   {"data": {"values": [{"p": "stop", "t": "!"}]}, "mark": {"type": "text", "align": "center", "dx": -8, "font": "Liberation Sans", "fontSize": 9, "fontWeight": "bold", "color": "#000000"}, "encoding": {"text": {"field": "t"}}}
  ]},
 {"width": 566, "height": 13, "view": {"fill": "#c4c4c4", "stroke": null},
  "encoding": {"x": {"field": "p", "type": "ordinal", "scale": {"type": "point", "domain": ["start", "stop"], "padding": 0}, "axis": null}},
  "layer": [
   {"data": {"values": [{"p": "stop"}]}, "mark": {"type": "point", "shape": "M-1.36,-0.5H1.36V0.5H-1.36Z", "size": 484, "filled": true, "fill": "#d6d67a", "strokeWidth": 0, "xOffset": -198, "opacity": 1}},
   {"data": {"values": [{"p": "stop"}]}, "mark": {"type": "point", "shape": "M-3.77,-0.5H3.77V0.5H-3.77Z", "size": 484, "filled": true, "fill": "#ececec", "stroke": "#707070", "strokeWidth": 1, "xOffset": -48.5, "opacity": 1}},
   {"data": {"values": [{"p": "stop", "t": "Meas"}]}, "mark": {"type": "text", "align": "center", "dx": -198, "font": "Liberation Sans", "fontSize": 10, "color": "#000000"}, "encoding": {"text": {"field": "t"}}},
   {"data": {"values": [{"p": "stop", "t": "Stop"}]}, "mark": {"type": "text", "align": "center", "dx": -168, "font": "Liberation Sans", "fontSize": 10, "color": "#a4a4a4"}, "encoding": {"text": {"field": "t"}}},
   {"data": {"values": [{"p": "stop", "t": "ExtRef"}]}, "mark": {"type": "text", "align": "center", "dx": -131, "font": "Liberation Sans", "fontSize": 10, "color": "#a4a4a4"}, "encoding": {"text": {"field": "t"}}},
   {"data": {"values": [{"p": "stop", "t": "Svc"}]}, "mark": {"type": "text", "align": "center", "dx": -100.5, "font": "Liberation Sans", "fontSize": 10, "color": "#a4a4a4"}, "encoding": {"text": {"field": "t"}}},
   {"data": {"values": [{"p": "stop", "t": "2008-04-09 10:34"}]}, "mark": {"type": "text", "align": "center", "dx": -46.5, "font": "Liberation Sans", "fontSize": 10, "color": "#000000"}, "encoding": {"text": {"field": "t"}}}
  ]}
]}
]
}
